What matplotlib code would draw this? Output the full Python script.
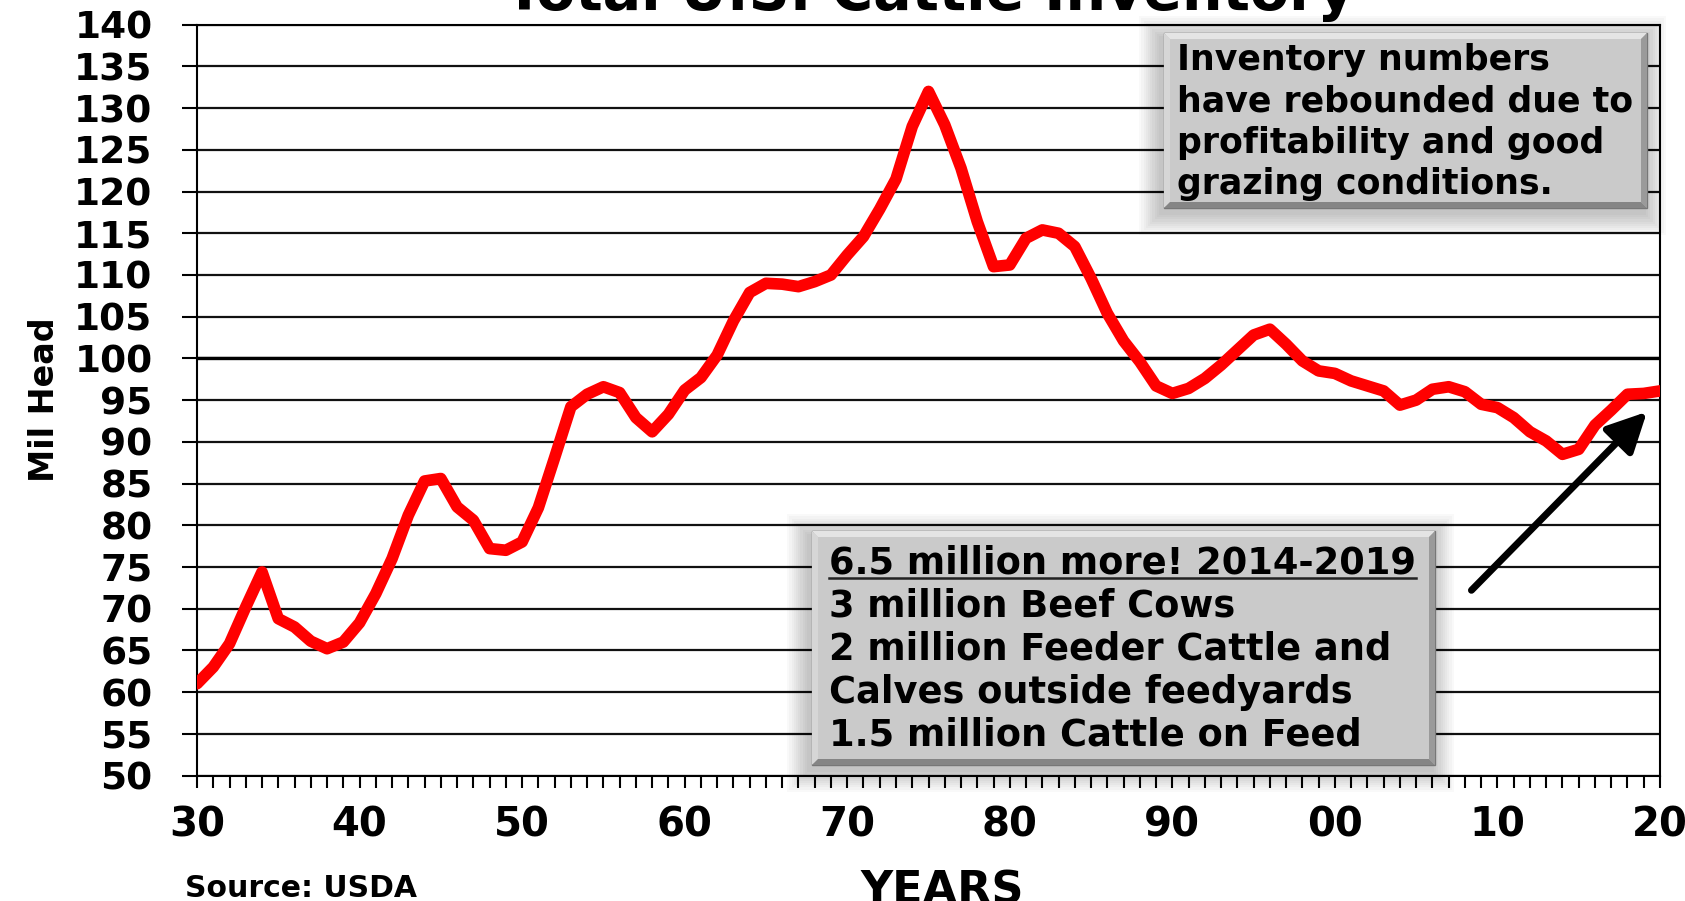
import numpy as np
import matplotlib
matplotlib.use("Agg")
import matplotlib.pyplot as plt
from matplotlib.patches import Rectangle, Polygon
from matplotlib.lines import Line2D

plt.rcParams['font.family'] = ['DejaVu Sans']
plt.rcParams['font.weight'] = 'bold'

# data (Jan 1 cattle inventory, million head)
years = np.arange(1930, 2021)
inventory = [61.0, 63.0, 65.8, 70.2, 74.4, 68.8, 67.8, 66.1, 65.2, 66.0,
             68.3, 71.8, 76.0, 81.2, 85.3, 85.6, 82.2, 80.6, 77.2, 77.0,
             78.0, 82.1, 88.1, 94.2, 95.7, 96.6, 95.9, 92.9, 91.2, 93.3,
             96.2, 97.7, 100.4, 104.5, 107.9, 109.0, 108.9, 108.6, 109.2, 110.0,
             112.4, 114.6, 117.9, 121.5, 127.8, 132.0, 128.0, 122.8, 116.4, 111.0,
             111.2, 114.4, 115.4, 115.0, 113.4, 109.6, 105.4, 102.1, 99.6, 96.7,
             95.8, 96.4, 97.6, 99.2, 101.0, 102.8, 103.5, 101.7, 99.7, 98.5,
             98.2, 97.3, 96.7, 96.1, 94.4, 95.0, 96.3, 96.6, 96.0, 94.5,
             94.1, 92.9, 91.2, 90.1, 88.5, 89.1, 92.0, 93.8, 95.7, 95.8,
             96.1]

xtick_pos = [1930, 1940, 1950, 1960, 1970, 1980, 1990, 2000, 2010, 2020]
xtick_lab = ["30", "40", "50", "60", "70", "80", "90", "00", "10", "20"]
ytick_pos = list(range(50, 145, 5))

box1_lines = ["Inventory numbers", "have rebounded due to",
              "profitability and good", "grazing conditions."]
box2_lines = ["6.5 million more! 2014-2019", "3 million Beef Cows",
              "2 million Feeder Cattle and", "Calves outside feedyards",
              "1.5 million Cattle on Feed"]

arrow_tail = (2008.4, 72.2)
arrow_head = (2019.2, 93.6)

W, H = 1685, 901


def fx(px):
    return px / W


def fy(py):
    return 1 - py / H


fig = plt.figure(figsize=(W / 100, H / 100), dpi=100)
ax = fig.add_axes([fx(197), fy(775.5), fx(1660) - fx(197), fy(24.7) - fy(775.5)])

ax.plot(years, inventory, color="#ff0000", lw=8.4, solid_capstyle="round",
        solid_joinstyle="round", zorder=3)

ax.set_xlim(1930, 2020)
ax.set_ylim(50, 140)
ax.set_yticks(ytick_pos)
ax.set_xticks(xtick_pos)
ax.set_xticklabels(xtick_lab)
ax.set_xticks(range(1930, 2021), minor=True)
ax.grid(axis="y", color="#111111", lw=1.6)
ax.axhline(100, color="black", lw=2.4, zorder=1)
ax.set_axisbelow(True)

ax.tick_params(axis="y", length=11, width=1.5, pad=21, labelsize=27)
ax.tick_params(axis="x", which="both", length=8.4, width=1.5, pad=13.5, labelsize=29)
for s in ax.spines.values():
    s.set_linewidth(1.5)
    s.set_color("black")

ax.set_ylabel("Mil Head", fontsize=24, fontweight="bold")
ax.yaxis.set_label_coords(-0.093, 0.5)

fig.text(fx(930), fy(9.7), "Total U.S. Cattle Inventory", fontsize=41,
         fontweight="bold", ha="center", va="baseline")
fig.text(fx(942), fy(870), "YEARS", fontsize=32, fontweight="bold",
         ha="center", va="top")
fig.text(fx(185), fy(897), "Source: USDA", fontsize=21.5, fontweight="bold",
         ha="left", va="baseline")

ax.annotate("", xy=arrow_head, xytext=arrow_tail,
            arrowprops=dict(arrowstyle="-|>,head_length=1.0,head_width=0.5",
                            color="black", lw=5, mutation_scale=24,
                            shrinkA=0, shrinkB=0), zorder=4)


def bevel_box(l, t, r, b):
    # soft shadow
    for k in range(10):
        g = 2 + 2.2 * k
        fig.add_artist(Rectangle((fx(l - g - 3), fy(b + g + 5)),
                                 fx(r + g - 3) - fx(l - g - 3),
                                 fy(t - g + 5) - fy(b + g + 5),
                                 transform=fig.transFigure, facecolor="black",
                                 edgecolor="none", alpha=0.025, zorder=2))
    fig.add_artist(Rectangle((fx(l), fy(b)), fx(r) - fx(l), fy(t) - fy(b),
                             transform=fig.transFigure, facecolor="#cacaca",
                             edgecolor="#777777", lw=1, zorder=3))
    d = 6
    bands = [
        ([(l, t), (r, t), (r - d, t + d), (l + d, t + d)], "#e4e4e4"),
        ([(l, t), (l + d, t + d), (l + d, b - d), (l, b)], "#d6d6d6"),
        ([(r, t), (r, b), (r - d, b - d), (r - d, t + d)], "#9a9a9a"),
        ([(l, b), (l + d, b - d), (r - d, b - d), (r, b)], "#858585"),
    ]
    for pts, c in bands:
        fig.add_artist(Polygon([(fx(x), fy(y)) for x, y in pts], closed=True,
                               transform=fig.transFigure, facecolor=c,
                               edgecolor="none", zorder=3.5))


bevel_box(1164, 33, 1647, 208)
bevel_box(812, 531, 1435, 765)

for i, line in enumerate(box1_lines):
    fig.text(fx(1177), fy(70 + 41.3 * i), line, fontsize=25, fontweight="bold",
             ha="left", va="baseline", zorder=5)

box2_texts = []
for i, line in enumerate(box2_lines):
    t = fig.text(fx(829), fy(573 + 43.2 * i), line, fontsize=26.5,
                 fontweight="bold", ha="left", va="baseline", zorder=5)
    box2_texts.append(t)

# underline first line of box 2
fig.canvas.draw()
bb = box2_texts[0].get_window_extent(fig.canvas.get_renderer())
fig.add_artist(Line2D([bb.x0 / W, bb.x1 / W], [fy(578), fy(578)],
                      transform=fig.transFigure, color="#222222", lw=1.8,
                      zorder=5))

fig.savefig("out.png", dpi=100)
